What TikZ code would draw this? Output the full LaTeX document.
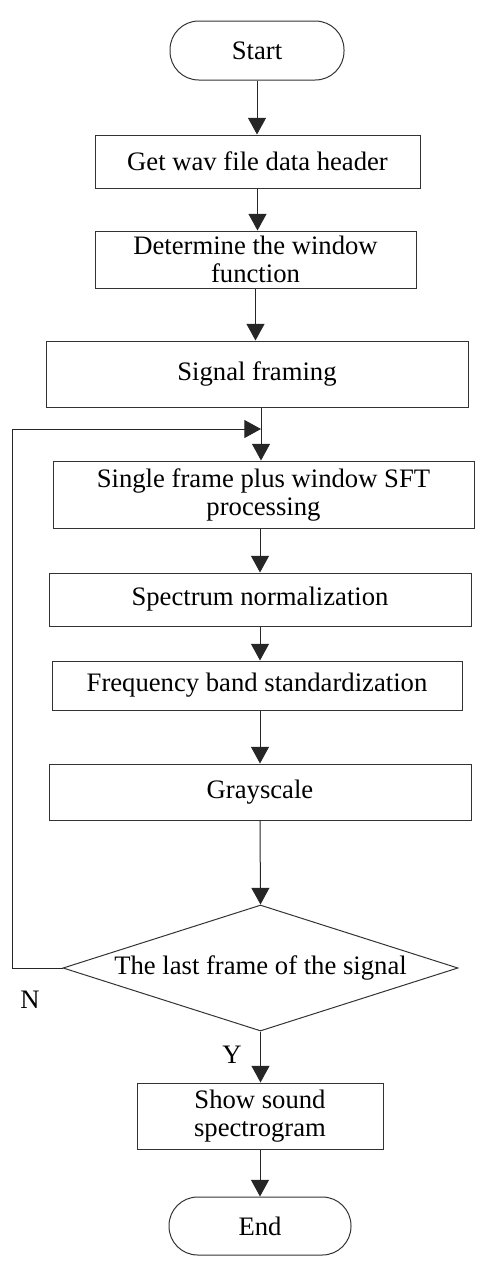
\documentclass[tikz,border=0pt]{standalone}
\usepackage{fontspec}
\setmainfont{Liberation Serif}
\usetikzlibrary{arrows.meta}
\usetikzlibrary{shapes.geometric}

\begin{document}
\begin{tikzpicture}[x=0.75pt,y=-0.75pt,
            every node/.style={font=\fontsize{20}{21}\selectfont},
            box/.style={draw=black!80, line width=0.75pt, align=center, inner sep=0pt},
            term/.style={box, rounded corners=21.5pt},
            arr/.style={draw=black!85, line width=0.75pt, -{Triangle[width=13.5pt,length=12.5pt]}}]
            \useasboundingbox (0,0) rectangle (501,1272);
            \node [term, minimum width=130.5pt, minimum height=44.25pt] (start) at (257,50.5) {Start};
            \node [box, minimum width=243.75pt, minimum height=39.75pt] (head) at (257.5,161.5) {Get wav file data header};
            \node [box, minimum width=240.75pt, minimum height=42.75pt] (win) at (255.5,259.5) {Determine the window\\function};
            \node [box, minimum width=316.5pt, minimum height=49.5pt] (frm) at (257,374) {Signal framing};
            \node [box, minimum width=315.75pt, minimum height=50.25pt] (sft) at (263.5,494.5) {Single frame plus window SFT\\processing};
            \node [box, minimum width=316.5pt, minimum height=39.75pt] (spec) at (260,599.5) {Spectrum normalization};
            \node [box, minimum width=307.5pt, minimum height=36.75pt] (band) at (257,685.5) {Frequency band standardization};
            \node [box, minimum width=316.5pt, minimum height=42pt] (gray) at (260,792) {Grayscale};
            \node [box, diamond, aspect=3.13, minimum width=296.25pt, minimum height=94.5pt] (last) at (260.5,968) {The last frame of the signal};
            \node [box, minimum width=184.5pt, minimum height=49.5pt] (show) at (260,1116) {Show sound\\spectrogram};
            \node [term, minimum width=136.5pt, minimum height=43.5pt] (end) at (260,1226) {End};
            \node (n) at (30,1000) {N};
            \node (y) at (232,1055) {Y};
            \coordinate (join) at (261,429);
            \draw [arr] (start.south) -- (start.south |- head.north);
            \draw [arr] (head.south) -- (head.south |- win.north);
            \draw [arr] (win.south) -- (win.south |- frm.north);
            \draw [draw=black!85, line width=0.75pt] (frm.south -| join) -- (join);
            \draw [arr] (join) -- (join |- sft.north);
            \draw [arr] (sft.south -| spec.north) -- (spec.north);
            \draw [arr] (spec.south) -- (spec.south |- band.north);
            \draw [arr] (band.south -| gray.north) -- (gray.north);
            \draw [arr] (gray.south) -- (last.north);
            \draw [arr] (last.west) -- ++(-50,0) |- (join);
            \draw [arr] (last.south) -- (last.south |- show.north);
            \draw [arr] (show.south) -- (end.north);
        \end{tikzpicture}
\end{document}
